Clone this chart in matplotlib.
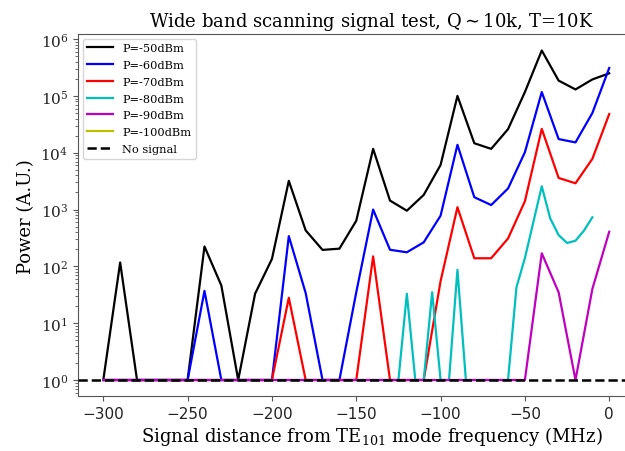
import matplotlib
matplotlib.use("Agg")
import matplotlib.pyplot as plt
import numpy as np

plt.rcParams['font.family'] = ['DejaVu Serif']
plt.rcParams['mathtext.fontset'] = 'dejavuserif'

# ---- data ----
x10 = list(range(-300, 1, 10))

p50 = [1, 117, 1, 1, 1, 1, 224, 46, 1, 33, 135, 3200, 430, 195, 205, 635,
       11700, 1440, 955, 1810, 6100, 100000, 14700, 11700, 26000, 117000,
       630000, 186000, 130000, 195000, 250000]
p60 = [1, 1, 1, 1, 1, 1, 37, 1, 1, 1, 1, 340, 34, 1, 1, 35,
       1000, 196, 177, 265, 780, 13800, 1650, 1200, 2350, 10200,
       117000, 17400, 15200, 50000, 310000]
p70 = [1, 1, 1, 1, 1, 1, 1, 1, 1, 1, 1, 28, 1, 1, 1, 1,
       150, 1, 1, 1, 55, 1100, 139, 139, 310, 1400,
       26300, 3600, 2900, 7800, 48000]
x80 = [-300, -125, -120, -115, -110, -105, -100, -95, -90, -85, -60, -55,
       -50, -40, -35, -30, -25, -20, -15, -10]
p80 = [1, 1, 33, 1, 1, 35, 1, 1, 87, 1, 1, 43,
       140, 2570, 700, 355, 258, 283, 425, 730]
x90 = [-300, -50, -40, -30, -20, -10, 0]
p90 = [1, 1, 170, 35, 1, 40, 407]
x100 = []
p100 = []
no_signal = 1

labels = ['P=-50dBm', 'P=-60dBm', 'P=-70dBm', 'P=-80dBm', 'P=-90dBm',
          'P=-100dBm', 'No signal']

fig = plt.figure(figsize=(6.25, 4.52), dpi=100)
ax = fig.add_axes([0.1248, 0.1206, 0.939, 0.802])

lw = 1.6
ax.plot(x10, p50, color='k', lw=lw, label=labels[0])
ax.plot(x10, p60, color='b', lw=lw, label=labels[1])
ax.plot(x10, p70, color='r', lw=lw, label=labels[2])
ax.plot(x80, p80, color='c', lw=lw, label=labels[3])
ax.plot(x90, p90, color='m', lw=lw, label=labels[4])
ax.plot(x100, p100, color='y', lw=lw, label=labels[5])
ax.axhline(no_signal, color='k', ls='--', lw=1.8, label=labels[6], zorder=3)

ax.set_yscale('log')
ax.set_xlim(-315, 33)
ax.set_ylim(10 ** -0.29, 10 ** 6.09)
ax.set_xticks([-300, -250, -200, -150, -100, -50, 0])

for s in ax.spines.values():
    s.set_color('#555555')
ax.spines['right'].set_visible(False)
ax.tick_params(axis='both', which='both', direction='out', colors='#555555',
               labelcolor='#222222')
ax.tick_params(axis='x', labelsize=11)
ax.tick_params(axis='y', labelsize=11)
for t in ax.get_xticklabels():
    t.set_fontfamily('DejaVu Sans')

ax.set_title('Wide band scanning signal test, Q$\\sim$10k, T=10K', fontsize=13)
ax.set_xlabel('Signal distance from TE$_{101}$ mode frequency (MHz)', fontsize=13,
              labelpad=2)
ax.set_ylabel('Power (A.U.)', fontsize=13)

ax.legend(loc='upper left', fontsize=8.2, handlelength=2.3, labelspacing=0.6,
          borderaxespad=0.4)

fig.savefig('out.png', dpi=100)
